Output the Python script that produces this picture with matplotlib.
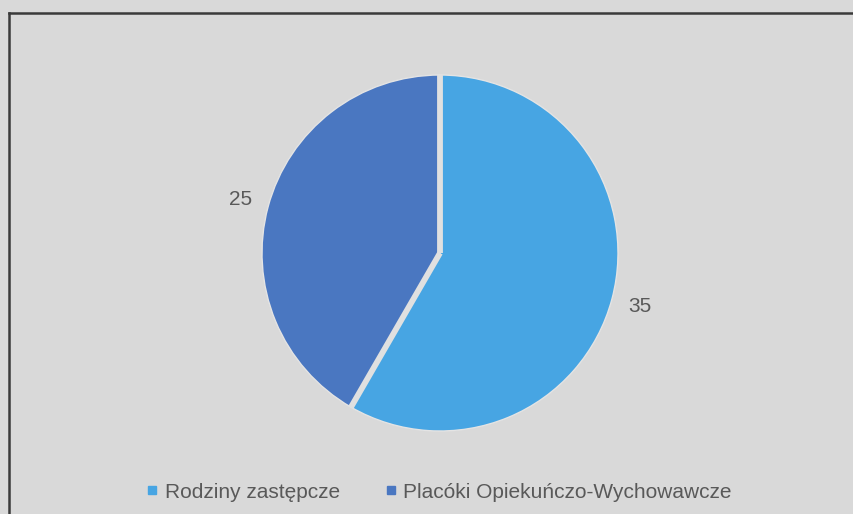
import numpy as np
import matplotlib
matplotlib.use("Agg")
import matplotlib.pyplot as plt
from matplotlib.lines import Line2D

categories = ["Rodziny zastępcze", "Placóki Opiekuńczo-Wychowawcze"]
values = [35, 25]
colors = ["#47A5E3", "#4A77C1"]

plt.rcParams['font.family'] = ['Liberation Sans', 'DejaVu Sans']
BG = "#d9d9d9"
TXT = "#595959"

fig = plt.figure(figsize=(8.54, 5.14), dpi=100, facecolor=BG)

# frame border (left and top visible, others beyond image edge)
W, H = 854, 514
fig.add_artist(Line2D([9 / W, 9 / W], [0, 1 - 13 / H], transform=fig.transFigure,
                      color="#3a3a3a", lw=1.8))
fig.add_artist(Line2D([9 / W, 1], [1 - 13 / H, 1 - 13 / H], transform=fig.transFigure,
                      color="#3a3a3a", lw=1.8))

cx, cy, r = 440, 253, 178
ax = fig.add_axes([(cx - r) / W, (H - cy - r) / H, 2 * r / W, 2 * r / H])
ax.set_facecolor(BG)
wedges, _ = ax.pie(values, colors=colors, startangle=90, counterclock=False,
                   wedgeprops=dict(edgecolor="#e4e4e4", linewidth=1.0))
ax.set_xlim(-1, 1)
ax.set_ylim(-1, 1)
ax.set_aspect('equal')
ax.axis('off')
for w in wedges:
    w.set_clip_on(False)

# separators between slices
for w in wedges:
    a = np.deg2rad(w.theta1)
    ax.plot([0, np.cos(a)], [0, np.sin(a)], color="#e0e0e0", lw=4.2,
            solid_capstyle='butt', clip_on=False)

for w, v in zip(wedges, values):
    ang = np.deg2rad((w.theta1 + w.theta2) / 2)
    ax.text(1.16 * np.cos(ang), 1.16 * np.sin(ang), str(v), ha='center', va='center',
            fontsize=15, color=TXT)

handles = [Line2D([], [], linestyle='none', marker='s', markersize=5.5,
                  markerfacecolor=c, markeredgecolor=c) for c in colors]
fig.legend(handles, categories, loc='center', bbox_to_anchor=(440 / W, 1 - 492 / H),
           ncol=2, frameon=False, fontsize=15, labelcolor=TXT,
           handlelength=0.4, handletextpad=0.4, columnspacing=2.25,
           borderaxespad=0, borderpad=0)

fig.savefig("out.png", dpi=100, facecolor=BG)
